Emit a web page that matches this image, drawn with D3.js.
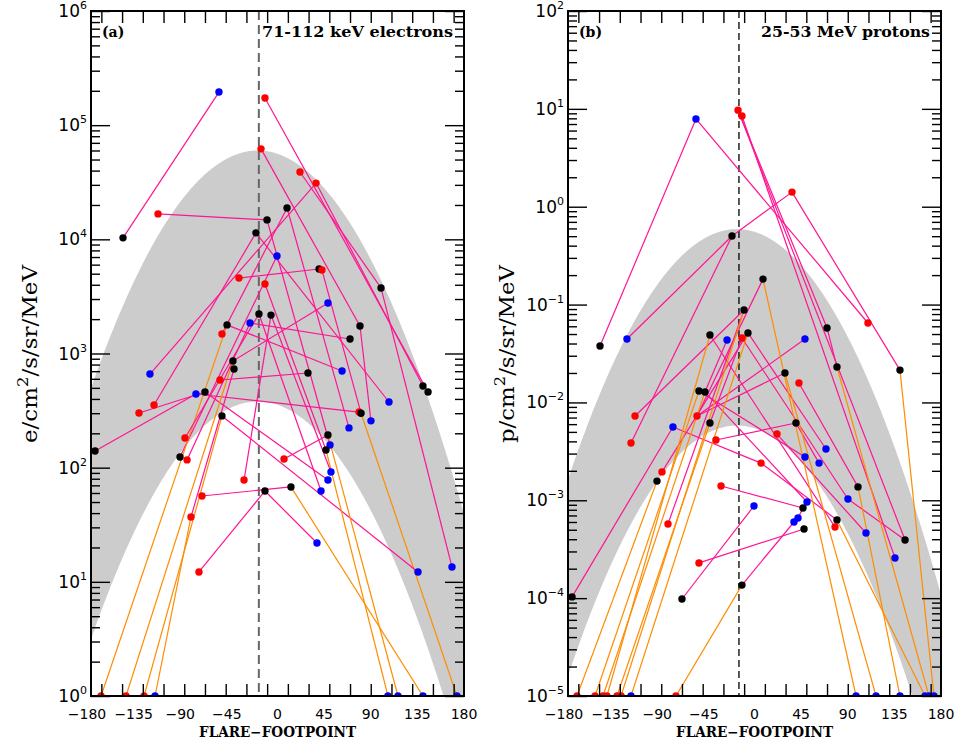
<!DOCTYPE html>
<html>
<head>
<meta charset="utf-8">
<script src="https://cdn.jsdelivr.net/npm/d3@7"></script>
<style>
  body { margin: 0; background: #fff; }
  svg { display: block; }
</style>
</head>
<body>
<svg id="chart" width="958" height="742"></svg>
<script>
// ---- panel (a): 71-112 keV electrons ----
const elecLon = [-149.1, -56.5, -115.3, -10.1, 50.7, -12.1, 145.3, -15.9, 79.6, 90.2,
  21.7, 99.9, 168.4, -123.1, 37.2, 140.4, -53.6, 9.2, 69.0, -133.7,
  -70.0, 48.7, -176.1, -78.7, 78.7, -119.2, -20.8, 107.6, -94.1, -0.5,
  -87.3, -26.5, 70.0, -37.2, 40.1, 42.9, 80.6, 173.2, -170.3, -48.7,
  62.3, -146.2, -43.0, 48.7, -128.8, -53.6, 135.6, -118.2, -83.5, -42.0,
  -55.5, 29.4, -89.3, -17.9, 42.0, -12.1, 46.8, 106.6, 6.3, 48.7,
  116.3, -72.9, 13.0, 140.4, -32.3, -6.3, 51.6, -75.8, -12.1, 38.1];
// null = below the plotted range
const elecPeak = [1.03e4, 1.95e5, 1.67e4, 1.48e4, 158, 1.73e5, 460, 6.2e4, 1740, 257,
  3.89e4, 3750, 13.5, 661, 3.11e4, 519, 1480, 1.88e4, 223, 301,
  460, 78, 140, 442, 307, 354, 1.14e4, 376, 124, 7150,
  117, 1850, 1340, 4580, 5500, 5380, 300, null, null, 1780,
  703, null, 860, 2770, null, 284, 12.2, null, 37, 731,
  586, 675, 182, 2220, 62.5, 4060, 143, null, 119, 193,
  null, 56.5, 67.8, null, 78, 2170, 91.6, 12.2, 62.5, 21.9];
// A = STEREO-A, B = STEREO-B, E = near-Earth
const elecCraft = ("EBAEBAEAEB" + "AEBBAEAEBA" + "EBEBAAEBEB" + "ABEAEAEBAE" +
  "BAEBAEBBAE" + "AEAEBAEBAE" + "BAEBAEBAEB").split('');
const elecLinks = [[0,1],[2,3],[3,4],[5,6],[7,8],[8,9],[10,11],[11,12],[13,14],[14,15],
  [16,17],[17,18],[19,20],[20,21],[22,23],[23,24],[25,26],[26,27],[28,29],[30,31],
  [31,32],[33,34],[35,36],[36,37],[38,39],[39,40],[41,42],[42,43],[44,45],[45,46],
  [47,48],[48,49],[50,51],[52,53],[53,54],[55,56],[56,57],[58,59],[59,60],[61,62],
  [62,63],[64,65],[65,66],[67,68],[68,69]];

// ---- panel (b): 25-53 MeV protons ----
const protLon = [-56.5, -15.9, -12.1, 36.2, -21.7, -149.1, -123.1, 8.2, -10.1, 109.5,
  70.0, 140.4, -43.0, -26.5, -12.1, -6.3, 48.7, 79.6, 29.4, 42.9,
  -53.6, -47.8, -115.3, -55.5, -43.0, 40.0, -119.2, -78.7, -37.2, 21.7,
  69.0, 48.7, 62.3, 6.3, -89.3, -94.1, -32.3, 99.9, 90.2, 50.7,
  46.8, -0.5, 79.6, 77.7, 42.0, 38.1, 47.8, -83.5, 107.6, -53.6,
  -12.1, -70.0, 145.3, 135.6, -176.1, -171.3, -153.9, -146.2, -142.4, -132.7,
  -128.8, -75.8, -119.2, 98.0, 117.3, 140.4, 164.6, 168.4, 173.2];
const protPeak = [7.88, 9.7, 8.45, 1.41, 0.502, 0.0377, 0.0445, 0.182, 0.0881, 0.0648,
  0.0577, 0.0214, 0.0489, 0.0435, 0.0455, 0.0513, 0.0445, 0.0230, 0.0200, 0.0158,
  0.0131, 0.0128, 7.27e-3, 7.27e-3, 6.16e-3, 6.16e-3, 3.85e-3, 5.61e-3, 4.13e-3, 4.75e-3,
  3.34e-3, 2.77e-3, 2.40e-3, 2.40e-3, 1.95e-3, 1.57e-3, 1.40e-3, 1.37e-3, 1.03e-3, 9.6e-4,
  8.34e-4, 8.75e-4, 6.29e-4, 5.33e-4, 6.59e-4, 6.00e-4, 5.09e-4, 5.73e-4, 4.63e-4, 2.29e-4,
  1.36e-4, 9.8e-5, 3.93e-4, 2.57e-4, 1.03e-4, null, null, null, null, null,
  null, null, null, null, null, null, null, null, null];
const protCraft = ("BAAAEEBEEA" + "EEEBAEBEEA" + "EEAAEEABAA" + "BBBAAEAEBB" +
  "EBEABBEABA" + "EEEBEAAAAA" + "AABBBBBBB").split('');
const protLinks = [[5,0],[0,9],[6,4],[4,3],[3,11],[26,4],[1,10],[10,17],[1,52],[2,53],
  [22,8],[23,7],[23,18],[23,16],[12,43],[13,21],[20,31],[21,39],[24,14],[14,38],
  [15,30],[34,15],[54,27],[47,8],[27,33],[33,42],[28,25],[25,32],[29,48],[38,52],
  [36,40],[40,44],[41,51],[49,46],[50,45],[19,37],
  [35,55],[20,56],[21,57],[12,58],[24,59],[8,60],[15,62],[50,61],[7,63],[18,64],
  [37,65],[42,66],[17,67],[11,68]];

// gaussian band (peak, width in degrees) and the dashed reference longitude
const elecBand = { center: -19, sigma: 52, hi: 6.0e4, lo: 3.8e2, mark: -18 };
const protBand = { center: -17, sigma: 47.5, hi: 0.59, lo: 5.8e-3, mark: -15 };

const craftColor = { A: '#ff0000', B: '#0000ff', E: '#000000' };
const lonTicks = [-180, -135, -90, -45, 0, 45, 90, 135, 180];
const lonMinor = d3.range(-170, 171, 20);

const svg = d3.select('#chart');
const plotTop = 11, plotBottom = 696;

function fmtMinus(v) { return String(v).replace('-', '\u2212'); }

function drawPanel(cfg) {
  const g = svg.append('g');
  const [left, right] = cfg.xRange;
  const x = d3.scaleLinear().domain([-180, 180]).range(cfg.xRange);
  const y = d3.scaleLog().domain(cfg.yDomain).range([plotBottom, plotTop]);

  g.append('clipPath').attr('id', 'clip-' + cfg.id)
    .append('rect').attr('x', left).attr('y', plotTop)
    .attr('width', right - left).attr('height', plotBottom - plotTop);
  const plot = g.append('g').attr('clip-path', 'url(#clip-' + cfg.id + ')');

  // shaded band
  const gauss = l => Math.exp(-((l - cfg.band.center) ** 2) / (2 * cfg.band.sigma ** 2));
  plot.append('path')
    .datum(d3.range(-180, 180.5, 1))
    .attr('fill', '#cccccc')
    .attr('d', d3.area()
      .x(l => x(l))
      .y0(l => y(cfg.band.lo * gauss(l)))
      .y1(l => y(cfg.band.hi * gauss(l))));

  // footpoint reference line
  plot.append('line')
    .attr('x1', x(cfg.band.mark)).attr('x2', x(cfg.band.mark))
    .attr('y1', plotTop).attr('y2', plotBottom)
    .attr('stroke', cfg.dashColor).attr('stroke-width', cfg.dashWidth)
    .attr('stroke-dasharray', cfg.dash);

  const px = i => x(cfg.lon[i]);
  const py = i => cfg.peak[i] == null ? plotBottom : y(cfg.peak[i]);

  plot.selectAll('line.link').data(cfg.links)
    .join('line')
    .attr('class', 'link')
    .attr('x1', d => px(d[0])).attr('y1', d => py(d[0]))
    .attr('x2', d => px(d[1])).attr('y2', d => py(d[1]))
    .attr('stroke', d => (cfg.peak[d[0]] == null || cfg.peak[d[1]] == null) ? '#ff8c00' : '#ff1493')
    .attr('stroke-width', 1.2);

  plot.selectAll('circle').data(d3.range(cfg.lon.length))
    .join('circle')
    .attr('cx', px).attr('cy', py).attr('r', 3.7)
    .attr('fill', i => craftColor[cfg.craft[i]]);

  // ticks
  const k0 = Math.round(Math.log10(cfg.yDomain[0])), k1 = Math.round(Math.log10(cfg.yDomain[1]));
  const decades = d3.range(k0, k1 + 1);
  const minor = [];
  decades.slice(0, -1).forEach(k => d3.range(2, 10).forEach(m => minor.push(m * Math.pow(10, k))));
  const major = decades.map(k => Math.pow(10, k));

  const tickStyle = sel => {
    sel.select('.domain').remove();
    sel.selectAll('line').attr('stroke', '#000').attr('stroke-width', 1.4);
  };
  g.append('g').attr('transform', `translate(${left},0)`)
    .call(d3.axisLeft(y).tickValues(major).tickSize(-19).tickFormat('')).call(tickStyle);
  g.append('g').attr('transform', `translate(${left},0)`)
    .call(d3.axisLeft(y).tickValues(minor).tickSize(-9).tickFormat('')).call(tickStyle);
  g.append('g').attr('transform', `translate(${right},0)`)
    .call(d3.axisRight(y).tickValues(major).tickSize(-19).tickFormat('')).call(tickStyle);
  g.append('g').attr('transform', `translate(${right},0)`)
    .call(d3.axisRight(y).tickValues(minor).tickSize(-9).tickFormat('')).call(tickStyle);
  g.append('g').attr('transform', `translate(0,${plotBottom})`)
    .call(d3.axisBottom(x).tickValues(lonMinor).tickSize(-12).tickFormat('')).call(tickStyle);
  g.append('g').attr('transform', `translate(0,${plotTop})`)
    .call(d3.axisTop(x).tickValues(lonMinor).tickSize(-12).tickFormat('')).call(tickStyle);

  // frame
  g.append('rect').attr('x', left).attr('y', plotTop)
    .attr('width', right - left).attr('height', plotBottom - plotTop)
    .attr('fill', 'none').attr('stroke', '#000').attr('stroke-width', 2);

  // y tick labels 10^k
  decades.forEach(k => {
    const t = g.append('text')
      .attr('x', left - 4).attr('y', y(Math.pow(10, k)) + 6)
      .attr('text-anchor', 'end')
      .attr('font-family', 'DejaVu Sans, sans-serif').attr('fill', '#000');
    t.append('tspan').attr('font-size', 17).text('10');
    t.append('tspan').attr('font-size', 11).attr('dy', -8).text(fmtMinus(k));
  });

  // x tick labels
  g.selectAll('text.xl').data(lonTicks).join('text')
    .attr('class', 'xl')
    .attr('x', d => x(d) - (d < 0 ? 4 : 0)).attr('y', 719)
    .attr('text-anchor', 'middle')
    .attr('font-family', 'DejaVu Sans, sans-serif').attr('font-size', 14)
    .text(d => fmtMinus(d));

  g.append('text')
    .attr('x', (left + right) / 2).attr('y', 737)
    .attr('text-anchor', 'middle')
    .attr('font-family', 'DejaVu Serif, serif').attr('font-weight', 'bold').attr('font-size', 14)
    .attr('textLength', 157).attr('lengthAdjust', 'spacingAndGlyphs')
    .text('FLARE\u2212FOOTPOINT');

  // y title
  const yt = g.append('text')
    .attr('transform', `translate(${cfg.titleX},354) rotate(-90)`)
    .attr('text-anchor', 'middle')
    .attr('font-family', 'DejaVu Serif, serif').attr('font-size', 21)
    .attr('textLength', 178).attr('lengthAdjust', 'spacingAndGlyphs');
  yt.append('tspan').text(cfg.unit + '/cm');
  yt.append('tspan').attr('dy', -9).attr('font-size', 15).text('2');
  yt.append('tspan').attr('dy', 9).text('/s/sr/MeV');

  // panel labels
  g.append('text').attr('x', left + 11).attr('y', 37)
    .attr('font-family', 'DejaVu Serif, serif').attr('font-weight', 'bold').attr('font-size', 14)
    .text(cfg.tag);
  g.append('text').attr('x', right - 11).attr('y', 37)
    .attr('text-anchor', 'end')
    .attr('font-family', 'DejaVu Serif, serif').attr('font-weight', 'bold').attr('font-size', 14)
    .attr('textLength', cfg.titleLen).attr('lengthAdjust', 'spacingAndGlyphs')
    .text(cfg.title);
}

drawPanel({
  id: 'a', xRange: [91, 464], yDomain: [1, 1e6], band: elecBand,
  lon: elecLon, peak: elecPeak, craft: elecCraft, links: elecLinks,
  dashColor: '#666', dashWidth: 2, dash: '9,5',
  unit: 'e', titleX: 37, tag: '(a)', title: '71-112 keV electrons', titleLen: 191
});
drawPanel({
  id: 'b', xRange: [568, 941], yDomain: [1e-5, 1e2], band: protBand,
  lon: protLon, peak: protPeak, craft: protCraft, links: protLinks,
  dashColor: '#000', dashWidth: 1.3, dash: '7,4',
  unit: 'p', titleX: 514, tag: '(b)', title: '25-53 MeV protons', titleLen: 169
});
</script>
</body>
</html>
